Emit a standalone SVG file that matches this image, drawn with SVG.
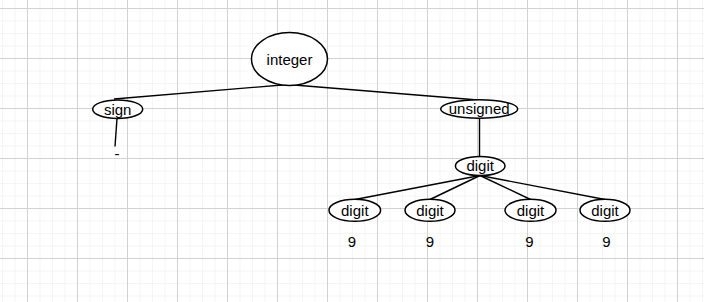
<svg xmlns="http://www.w3.org/2000/svg" width="704" height="302" viewBox="0 0 704 302">
  <defs>
    <pattern id="minor" x="27" y="8" width="12.5" height="12.5" patternUnits="userSpaceOnUse">
      <path d="M0 0V12.5M0 0H12.5" fill="none" stroke="#ececec" stroke-width="1"/>
    </pattern>
    <pattern id="major" x="27" y="8" width="50" height="50" patternUnits="userSpaceOnUse">
      <path d="M0.5 0V50M0 0.5H50" fill="none" stroke="#d2d2d2" stroke-width="1"/>
    </pattern>
  </defs>
  <style>
    .node ellipse { fill: #ffffff; stroke: #000000; stroke-width: 1.5; }
    .node text, .leaf { font-family: "Liberation Sans", Arial, sans-serif; font-size: 15px; fill: #000000; text-anchor: middle; }
    #edges line { stroke: #000000; stroke-width: 1.4; }
  </style>

  <!-- page background with grid -->
  <rect width="704" height="302" fill="#ffffff"/>
  <rect width="704" height="302" fill="url(#minor)"/>
  <rect width="704" height="302" fill="url(#major)"/>

  <!-- connectors -->
  <g id="edges">
    <line x1="288" y1="84.5" x2="114" y2="99"/>
    <line x1="288" y1="84.5" x2="478" y2="100"/>
    <line x1="117" y1="118.5" x2="115" y2="146.5"/>
    <line x1="479.5" y1="118" x2="479.5" y2="157"/>
    <line x1="480" y1="175.5" x2="355" y2="199.5"/>
    <line x1="480" y1="175.5" x2="430" y2="199.5"/>
    <line x1="480" y1="175.5" x2="530.5" y2="199.5"/>
    <line x1="480" y1="175.5" x2="605" y2="199.5"/>
  </g>

  <g id="n-integer" class="node">
    <ellipse cx="289.5" cy="59" rx="38" ry="26.5"/>
    <text x="289.5" y="64.5">integer</text>
  </g>
  <g id="n-sign" class="node">
    <ellipse cx="117.7" cy="109.2" rx="25" ry="9.3"/>
    <text x="117.7" y="114.5">sign</text>
  </g>
  <g id="n-unsigned" class="node">
    <ellipse cx="479.2" cy="109" rx="38.5" ry="9.3"/>
    <text x="479.2" y="114.3">unsigned</text>
  </g>
  <g id="n-digit" class="node">
    <ellipse cx="480.2" cy="166" rx="24.8" ry="9.5"/>
    <text x="480.2" y="171.3">digit</text>
  </g>
  <g id="n-digit-1" class="node">
    <ellipse cx="354.8" cy="210.3" rx="25.8" ry="11"/>
    <text x="354.8" y="215.5">digit</text>
  </g>
  <g id="n-digit-2" class="node">
    <ellipse cx="430" cy="210.3" rx="25" ry="11"/>
    <text x="430" y="215.5">digit</text>
  </g>
  <g id="n-digit-3" class="node">
    <ellipse cx="530.5" cy="210.3" rx="25.5" ry="11"/>
    <text x="530.5" y="215.5">digit</text>
  </g>
  <g id="n-digit-4" class="node">
    <ellipse cx="605" cy="210.3" rx="25" ry="11"/>
    <text x="605" y="215.5">digit</text>
  </g>

  <!-- terminal symbols -->
  <text class="leaf" x="117" y="159">-</text>
  <text class="leaf" x="352" y="246.5">9</text>
  <text class="leaf" x="430" y="246.5">9</text>
  <text class="leaf" x="529.5" y="246.5">9</text>
  <text class="leaf" x="606.5" y="246.5">9</text>
</svg>
